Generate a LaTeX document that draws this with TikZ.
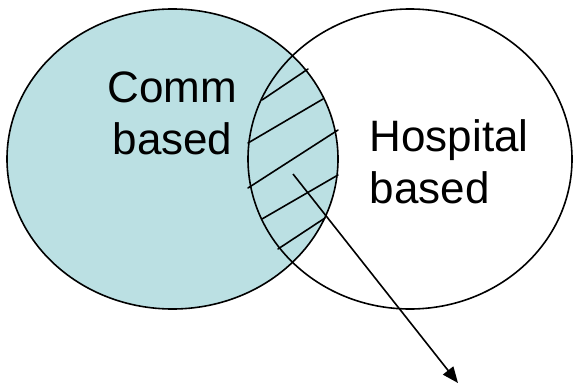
\documentclass[tikz,border=0pt]{standalone}
\usepackage{fontspec}
\setmainfont{Liberation Sans}
\usetikzlibrary{shapes.geometric,arrows.meta}
\definecolor{commfill}{RGB}{187,224,227}
\begin{document}
\begin{tikzpicture}[x=1pt,y=-1pt,
  setoval/.style={ellipse,draw=black,line width=1.6pt,inner sep=0pt},
  lbl/.style={font=\fontsize{44}{52}\selectfont,inner sep=0pt,anchor=base},
  hatchline/.style={line width=1.6pt,line cap=round},
  pointer/.style={line width=1.6pt,-{Triangle[length=16pt,width=13pt]}}]
\useasboundingbox (0,0) rectangle (573,383);
\node[setoval,fill=commfill,minimum width=331pt,minimum height=300pt] (comm) at (172.5,159) {};
\node[setoval,minimum width=324pt,minimum height=300pt] (hosp) at (410,159) {};
\draw[hatchline] (262,100) -- (308,69);
\draw[hatchline] (248,143) -- (323,99);
\draw[hatchline] (248,188) -- (338,130);
\draw[hatchline] (262,219) -- (338,175);
\draw[hatchline] (278,249) -- (325,218);
\node[lbl] (commA) at (172.5,102) {Comm};
\node[lbl] (commB) at (172.5,154) {based};
\node[lbl,anchor=base west] (hospA) at (369.5,151) {Hospital};
\node[lbl,anchor=base west] (hospB) at (369.5,203) {based};
\coordinate (from) at (293,174);
\coordinate (to) at (458,383);
\draw[pointer] (from) -- (to);
\end{tikzpicture}
\end{document}
